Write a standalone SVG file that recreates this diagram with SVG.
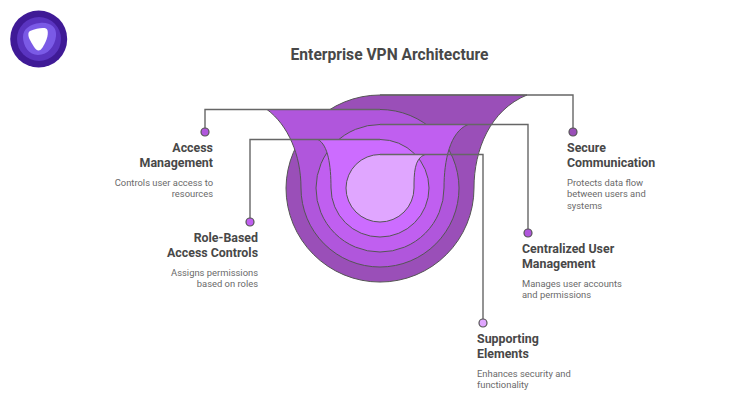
<svg xmlns="http://www.w3.org/2000/svg" width="740" height="420" viewBox="0 0 740 420">
<style>
.t{font-family:Roboto,"Liberation Sans",sans-serif;font-size:12.4px;font-weight:700;fill:#484848}
.d{font-family:Roboto,"Liberation Sans",sans-serif;font-size:9.4px;fill:#6a6a6a}
.e{text-anchor:end}
.l{fill:none;stroke:#666;stroke-width:1.4}
.s{stroke:#555;stroke-width:1}
.p{stroke:#555;stroke-width:1.2}
</style>
<rect width="740" height="420" fill="#fff"/>
<g id="logo">
<circle cx="38.700" cy="39" r="28.500" fill="#3f1a96"/>
<circle cx="39" cy="39" r="22" fill="#5a34c0"/>
<path d="M40 23C50 22 57 27 56 36C55 46 48 55 38 55C29 55 23 46 23 37C23 29 30 24 40 23Z" fill="#7a5ae6"/>
<path d="M30 31C36 28.500 43 27.500 46 28.500C49 30 48 37 45 43C43 47 41 50.500 38.500 50.500C35.500 50.500 32 44 29 38C28 35 28 32 30 31Z" fill="#fff"/>
</g>
<text id="title" x="389.500" y="60" text-anchor="middle" font-family="Roboto,'Liberation Sans',sans-serif" font-size="15.600" font-weight="700" fill="#484848">Enterprise VPN Architecture</text>
<g id="layers">
<path class="s" fill="#9a4fb8" d="M527 95C490 110 474 150 474 188A94 94 0 1 1 286 188A94 94 0 0 1 380 95Z"/>
<path class="s" fill="#b056dc" d="M267 109.500C288 125 301 155 301 188A79 79 0 0 0 459 188A79 79 0 0 0 380 109.500Z"/>
<path class="s" fill="#c05ff0" d="M468 124.500C450 132 444 160 444 188A64 64 0 0 1 316 188A64 64 0 0 1 380 124.500Z"/>
<path class="s" fill="#cc6cff" d="M318 139.500C328 145 331 165 331 188A49 49 0 0 0 429 188A49 49 0 0 0 380 139.500Z"/>
<path class="s" fill="#e0a6ff" d="M425 154.500C414 158 414 175 414 188A34 34 0 0 1 346 188A34 34 0 0 1 380 154.500Z"/>
</g>
<g id="connectors">
<path class="l" d="M205 132V109.500H380"/>
<path class="l" d="M573 132V95H380"/>
<path class="l" d="M528 233V124.500H380"/>
<path class="l" d="M250 222V139.500H380"/>
<path class="l" d="M483 323V154.500H380"/>
</g>
<g id="access-management">
<circle class="p" cx="205" cy="132" r="4" fill="#b056dc"/>
<text class="t e" x="213" y="151.500">Access</text>
<text class="t e" x="213" y="166.500">Management</text>
<text class="d e" x="213" y="185.500">Controls user access to</text>
<text class="d e" x="213" y="197">resources</text>
</g>
<g id="role-based">
<circle class="p" cx="250" cy="222" r="4" fill="#c05ff0"/>
<text class="t e" x="258" y="241.500">Role-Based</text>
<text class="t e" x="258" y="256.500">Access Controls</text>
<text class="d e" x="258" y="275.500">Assigns permissions</text>
<text class="d e" x="258" y="287">based on roles</text>
</g>
<g id="secure-communication">
<circle class="p" cx="573" cy="132" r="4" fill="#9a4fb8"/>
<text class="t" x="567" y="151.500">Secure</text>
<text class="t" x="567" y="166.500">Communication</text>
<text class="d" x="567" y="185.500">Protects data flow</text>
<text class="d" x="567" y="197">between users and</text>
<text class="d" x="567" y="208.500">systems</text>
</g>
<g id="centralized">
<circle class="p" cx="528" cy="233" r="4" fill="#b056dc"/>
<text class="t" x="522" y="252.500">Centralized User</text>
<text class="t" x="522" y="267.500">Management</text>
<text class="d" x="522" y="286.500">Manages user accounts</text>
<text class="d" x="522" y="298">and permissions</text>
</g>
<g id="supporting">
<circle class="p" cx="483" cy="323" r="4" fill="#e0a6ff"/>
<text class="t" x="477" y="342.500">Supporting</text>
<text class="t" x="477" y="357.500">Elements</text>
<text class="d" x="477" y="376.500">Enhances security and</text>
<text class="d" x="477" y="388">functionality</text>
</g>
</svg>
